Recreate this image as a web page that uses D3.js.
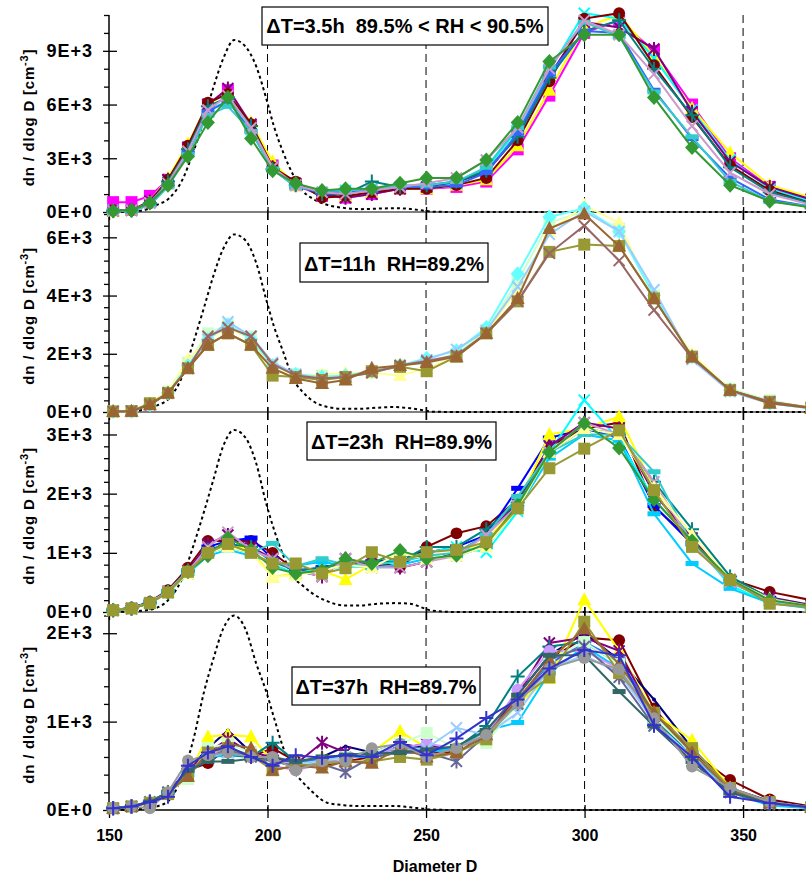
<!DOCTYPE html>
<html>
<head>
<meta charset="utf-8">
<title>dn / dlog D</title>
<script src="https://cdn.jsdelivr.net/npm/d3@7"></script>
<style>
	body { margin: 0; background: #fff; }
	svg text { font-family: "Liberation Sans", Arial, sans-serif; font-weight: bold; fill: #000; }
</style>
</head>
<body>
<script>
// size bins (diameter D)
var diam = [151.3, 157.1, 162.9, 168.6, 174.9, 181.2, 187.5, 194.8, 201.6, 208.9, 217.2, 224.6, 232.9,
	241.8, 250.2, 259.6, 269.0, 278.9, 288.9, 299.9, 310.9, 321.9, 333.9, 345.9, 358.4, 371.5];

// dotted reference distribution
var refD = [150, 160, 165, 169, 173, 176.5, 180, 183, 186, 189.5, 193, 196.5, 199.5, 202, 205, 208, 211, 214, 219, 224, 229, 235, 240, 245, 249, 252, 260, 370];
var ref1 = [0, 70, 390, 770, 1750, 3300, 5200, 7000, 8550, 9600, 9250, 8100, 6400, 4800, 3300, 2100, 1200, 770, 390, 230, 160, 190, 210, 170, 80, 20, 0, 0];
var ref2 = [0, 60, 220, 470, 1200, 2350, 3600, 4700, 5600, 6100, 5900, 5100, 3900, 2950, 2050, 1150, 700, 400, 170, 110, 110, 150, 170, 130, 60, 10, 0, 0];
var ref3 = [0, 20, 70, 220, 560, 1100, 1700, 2250, 2800, 3075, 2950, 2500, 1850, 1400, 950, 600, 450, 320, 180, 110, 110, 140, 150, 140, 70, 20, 0, 0];
var ref4 = [0, 10, 40, 110, 380, 780, 1340, 1720, 2050, 2200, 2050, 1650, 1350, 1050, 700, 450, 320, 210, 80, 55, 45, 45, 45, 30, 15, 5, 0, 0];

// panel 1 : dT=3.5h
var p1Data = [
	[550, 550, 900, 1800, 3600, 6000, 6800, 4800, 2600, 1500, 900, 800, 1000, 1300, 1300, 1400, 1700, 3500, 6500, 10000, 10700, 9000, 6000, 3000, 1400, 700],
	[50, 100, 600, 1900, 3800, 6000, 6700, 5000, 2800, 1500, 1000, 900, 1100, 1300, 1300, 1500, 1800, 3700, 6800, 10300, 11000, 8700, 5800, 3300, 1500, 800],
	[100, 100, 500, 1700, 3400, 5700, 6200, 4600, 2500, 1500, 1100, 1200, 1300, 1400, 1400, 1600, 2400, 4600, 7900, 11100, 10800, 8600, 5700, 2900, 1300, 600],
	[50, 100, 600, 1800, 3600, 6000, 6900, 4900, 2500, 1600, 1000, 800, 1000, 1300, 1400, 1700, 2200, 4300, 7600, 10600, 10300, 9100, 5600, 2800, 1400, 700],
	[100, 100, 500, 1800, 3700, 6100, 6600, 4900, 2500, 1700, 800, 900, 1100, 1300, 1300, 1500, 1900, 4000, 7300, 10800, 11100, 8200, 5300, 2600, 1200, 500],
	[50, 100, 500, 1700, 3500, 5900, 6400, 4800, 2400, 1500, 1000, 1000, 1700, 1400, 1500, 1700, 2300, 4200, 7500, 10100, 10700, 8000, 5400, 2500, 1100, 500],
	[50, 50, 400, 1500, 3300, 5600, 6200, 4500, 2400, 1400, 1100, 1100, 1200, 1400, 1400, 1500, 2200, 4400, 7700, 10100, 10000, 6800, 4100, 1900, 700, 300],
	[50, 50, 400, 1400, 3200, 5400, 5900, 4500, 2400, 1400, 1200, 1200, 1300, 1500, 1500, 1700, 2500, 4700, 8100, 10600, 9800, 6700, 4200, 1700, 600, 300],
	[50, 100, 500, 1600, 3400, 5700, 6500, 4700, 2500, 1500, 1100, 1000, 1200, 1400, 1600, 1900, 2900, 4700, 8000, 10700, 9900, 7700, 4800, 2200, 1000, 400],
	[50, 100, 500, 1500, 3100, 5000, 6400, 4100, 2300, 1600, 1200, 1300, 1300, 1600, 1900, 1900, 2900, 5000, 8400, 9900, 9900, 6400, 3600, 1500, 600, 250]
];
var p1Colors = ["#FF00FF", "#FFFF00", "#00FFFF", "#800080", "#800000", "#008080", "#3366FF", "#33CCCC", "#CC99CC", "#339933"];
var p1Marks = ["square", "triangle", "x", "star", "circle", "plus", "bar", "bar", "x", "diamond"];

// panel 2 : dT=11h
var p2Data = [
	[20, 30, 300, 700, 1700, 2700, 3000, 2600, 1600, 1300, 1250, 1200, 1350, 1600, 1700, 2000, 2800, 4500, 6500, 6900, 6300, 4000, 1900, 800, 400, 150],
	[20, 30, 300, 700, 1800, 2500, 2900, 2500, 1500, 1250, 1300, 1350, 1350, 1250, 1500, 1900, 2700, 4200, 6200, 7100, 6500, 3900, 2000, 750, 350, 150],
	[20, 30, 250, 650, 1600, 2500, 3000, 2500, 1600, 1300, 1200, 1250, 1400, 1600, 1850, 2100, 2900, 4750, 6700, 7000, 6200, 4000, 1900, 750, 300, 120],
	[20, 30, 250, 650, 1500, 2500, 3100, 2600, 1700, 1300, 1150, 1200, 1350, 1600, 1800, 2150, 2800, 4300, 6100, 6900, 6200, 4200, 1800, 700, 300, 120],
	[20, 30, 300, 650, 1500, 2300, 2700, 2300, 1250, 1200, 1100, 1200, 1400, 1550, 1400, 1900, 2700, 3800, 5500, 5750, 5700, 3900, 1900, 750, 350, 150],
	[20, 30, 250, 650, 1500, 2600, 2900, 2600, 1650, 1250, 1150, 1200, 1350, 1600, 1750, 1950, 2700, 3800, 5450, 6400, 5200, 3500, 1850, 750, 350, 150],
	[20, 30, 250, 650, 1500, 2300, 2700, 2300, 1500, 1150, 980, 1100, 1500, 1600, 1700, 1900, 2700, 3900, 6300, 6800, 5700, 3900, 1900, 750, 300, 130]
];
var p2Colors = ["#CCFFCC", "#FFFF99", "#66FFFF", "#99CCFF", "#999933", "#996666", "#996633"];
var p2Marks = ["square", "triangle", "diamond", "x", "square", "x", "triangle"];

// panel 3 : dT=23h
var p3Data = [
	[30, 70, 170, 370, 750, 1200, 1200, 1200, 1000, 700, 700, 850, 850, 760, 1100, 1330, 1450, 1900, 2800, 3100, 3200, 1780, 1200, 560, 340, 200],
	[30, 70, 170, 350, 700, 1100, 1200, 1250, 900, 700, 750, 800, 850, 900, 1000, 1100, 1300, 2090, 2940, 3100, 2950, 1800, 1150, 500, 230, 100],
	[30, 60, 150, 330, 700, 1000, 1150, 1050, 590, 650, 700, 550, 800, 900, 950, 1000, 1200, 1800, 3000, 3100, 3300, 2100, 1300, 500, 200, 100],
	[30, 60, 150, 330, 650, 1000, 1100, 1000, 800, 650, 750, 750, 800, 900, 1000, 1100, 1010, 1700, 2700, 3580, 2900, 1900, 1200, 450, 150, 80],
	[30, 60, 150, 350, 700, 1150, 1300, 1100, 900, 700, 600, 900, 800, 750, 850, 1000, 1300, 1850, 2800, 3200, 3100, 2000, 1250, 550, 250, 120],
	[30, 60, 160, 350, 700, 1050, 1150, 1100, 850, 700, 750, 850, 850, 850, 1100, 1100, 1400, 1850, 2700, 3100, 3000, 2200, 1400, 600, 230, 100],
	[30, 60, 150, 330, 650, 950, 1050, 950, 850, 780, 850, 780, 750, 800, 900, 950, 1100, 1750, 2600, 3000, 2900, 1660, 820, 400, 150, 60],
	[30, 60, 160, 350, 700, 1000, 1100, 1000, 1160, 780, 900, 800, 800, 850, 950, 1000, 1300, 1950, 2700, 3000, 3000, 2370, 1150, 500, 200, 90],
	[30, 60, 160, 350, 680, 1100, 1350, 1050, 900, 700, 600, 900, 750, 750, 850, 950, 1300, 1800, 2700, 3200, 3000, 2200, 1150, 500, 200, 90],
	[30, 60, 150, 330, 650, 1000, 1100, 1000, 590, 620, 700, 800, 750, 1000, 900, 950, 1100, 1750, 2700, 3100, 3000, 2100, 1300, 550, 220, 100],
	[30, 60, 150, 330, 680, 950, 1250, 1050, 750, 650, 700, 900, 820, 1040, 900, 960, 1150, 1800, 2700, 3190, 2770, 1900, 1200, 550, 200, 100],
	[30, 60, 150, 330, 680, 1000, 1150, 1000, 820, 820, 650, 740, 1010, 850, 1010, 1050, 1180, 1750, 2430, 2760, 3070, 2060, 1100, 540, 140, 80]
];
var p3Colors = ["#800000", "#0000FF", "#FFFF00", "#00FFFF", "#800080", "#008080", "#00CCFF", "#33CCCC", "#CC99CC", "#FFFF99", "#339933", "#999933"];
var p3Marks = ["circle", "bar", "triangle", "x", "star", "plus", "bar", "bar", "x", "triangle", "diamond", "square"];

// panel 4 : dT=37h
var p4Data = [
	[20, 40, 90, 200, 450, 530, 700, 600, 700, 550, 500, 550, 600, 650, 650, 650, 850, 1200, 1700, 1950, 1920, 1150, 650, 340, 120, 40],
	[20, 40, 90, 200, 450, 700, 900, 650, 550, 500, 600, 720, 650, 750, 700, 700, 900, 1300, 1750, 2000, 1700, 1250, 700, 250, 100, 30],
	[20, 40, 80, 180, 400, 830, 850, 830, 550, 550, 600, 620, 650, 890, 700, 700, 900, 1200, 1490, 2380, 1800, 1100, 790, 250, 90, 30],
	[20, 40, 90, 200, 450, 650, 800, 650, 600, 520, 760, 650, 600, 700, 750, 650, 850, 1300, 1890, 1950, 1800, 1050, 550, 200, 80, 30],
	[20, 40, 100, 200, 450, 600, 620, 600, 760, 550, 550, 620, 650, 700, 700, 700, 950, 1510, 1850, 1900, 1650, 1050, 600, 230, 80, 30],
	[20, 40, 90, 200, 450, 600, 700, 600, 520, 550, 580, 600, 620, 650, 680, 700, 850, 1250, 1650, 1900, 1700, 1100, 650, 220, 80, 30],
	[20, 40, 90, 200, 400, 600, 620, 620, 550, 500, 560, 600, 600, 650, 650, 700, 900, 990, 1550, 1850, 1600, 1000, 600, 200, 50, 20],
	[20, 40, 90, 200, 420, 620, 680, 600, 500, 450, 520, 600, 650, 700, 750, 700, 850, 1360, 1800, 1800, 1600, 1000, 550, 200, 80, 30],
	[20, 40, 90, 200, 350, 700, 750, 650, 550, 500, 550, 600, 650, 750, 870, 700, 760, 1200, 1700, 1900, 1650, 1050, 650, 230, 80, 30],
	[20, 40, 90, 200, 420, 600, 650, 620, 550, 520, 560, 600, 620, 680, 700, 930, 850, 1100, 1600, 1750, 1550, 1000, 600, 200, 70, 30],
	[20, 40, 90, 200, 420, 600, 680, 600, 550, 500, 520, 430, 600, 650, 650, 550, 850, 1200, 1700, 1850, 1500, 950, 550, 200, 70, 30],
	[20, 40, 80, 180, 400, 650, 700, 620, 450, 500, 520, 550, 550, 600, 570, 650, 800, 1250, 1500, 2130, 1550, 1100, 700, 250, 90, 30],
	[20, 40, 90, 200, 380, 650, 750, 700, 450, 500, 475, 550, 530, 700, 600, 650, 850, 1250, 1700, 2050, 1650, 1100, 650, 230, 80, 30],
	[20, 40, 90, 200, 450, 550, 550, 580, 600, 550, 600, 620, 640, 650, 680, 720, 900, 1300, 1750, 1750, 1340, 950, 550, 200, 80, 30],
	[20, 40, 20, 200, 560, 620, 650, 600, 600, 450, 550, 550, 700, 750, 600, 700, 850, 1200, 1600, 1720, 1590, 1040, 490, 250, 90, 30],
	[20, 40, 90, 150, 500, 650, 720, 600, 500, 620, 590, 620, 600, 770, 620, 810, 1040, 1250, 1600, 1810, 1750, 960, 600, 150, 80, 30]
];
var p4Colors = ["#800000", "#000080", "#FFFF00", "#800080", "#008080", "#3366FF", "#00CCFF", "#CC99FF", "#CCFFCC", "#99CCFF", "#666699", "#999933", "#996633", "#336666", "#999999", "#3333CC"];
var p4Marks = ["circle", "dot", "triangle", "star", "plus", "bar", "bar", "circle", "square", "x", "star", "square", "triangle", "bar", "circle", "plus"];

var labels = ["\u0394T=3.5h  89.5% < RH < 90.5%", "\u0394T=11h  RH=89.2%", "\u0394T=23h  RH=89.9%", "\u0394T=37h  RH=89.7%"];
var yMax = [11000, 6870, 3380, 2240];
var yMajor = [[0, 3000, 6000, 9000], [0, 2000, 4000, 6000], [0, 1000, 2000, 3000], [0, 1000, 2000]];
var yMinorStep = [1000, 400, 200, 200];
var xMajor = [150, 200, 250, 300, 350];

// layout
var W = 806, H = 874;
var panelTop = [15, 212, 412, 612];
var panelBot = [212, 412, 612, 810];
var boxes = [[262, 7, 286, 38, 33], [300, 243, 188, 39, 270.5], [307, 422, 189, 38, 449], [292, 667, 188, 38, 694]];

var svg = d3.select("body").append("svg").attr("width", W).attr("height", H);
var x = d3.scaleLinear().domain([150, 370]).range([109, 806.5]);

var allData = [p1Data, p2Data, p3Data, p4Data];
var allColors = [p1Colors, p2Colors, p3Colors, p4Colors];
var allMarks = [p1Marks, p2Marks, p3Marks, p4Marks];
var allRef = [ref1, ref2, ref3, ref4];

function fmtY(v) {
	return v == 0 ? "0E+0" : (v / 1000) + "E+3";
}

function markPath(type) {
	if (type == "square") return "M-6,-6h12v12h-12z";
	if (type == "triangle") return "M0,-7.5L7,5.5L-7,5.5Z";
	if (type == "diamond") return "M0,-7.5L7,0L0,7.5L-7,0Z";
	if (type == "bar") return "M-6.5,-2.5h13v5h-13z";
	if (type == "circle") return d3.symbol(d3.symbolCircle, 110)();
	if (type == "dot") return d3.symbol(d3.symbolCircle, 12)();
	if (type == "x") return "M-5.5,-5.5L5.5,5.5M-5.5,5.5L5.5,-5.5";
	if (type == "plus") return "M-7,0H7M0,-7V7";
	if (type == "star") return "M-5.5,-5.5L5.5,5.5M-5.5,5.5L5.5,-5.5M0,-7V7";
}
function isStroked(type) {
	return type == "x" || type == "plus" || type == "star";
}

var yScales = [];
for (var p = 0; p < 4; p++) {
	yScales.push(d3.scaleLinear().domain([0, yMax[p]]).range([panelBot[p], panelTop[p]]));
}

// frame : grid lines, axes
for (var p = 0; p < 4; p++) {
	var y = yScales[p];
	var g = svg.append("g");

	// dashed verticals
	g.selectAll("line.grid").data([200, 250, 300, 350]).enter().append("line")
		.attr("x1", function(d) { return x(d); }).attr("x2", function(d) { return x(d); })
		.attr("y1", panelTop[p]).attr("y2", panelBot[p])
		.attr("stroke", "#000").attr("stroke-width", 1).attr("stroke-dasharray", "8,5");

	// baseline
	g.append("line").attr("x1", 109).attr("x2", W).attr("y1", panelBot[p]).attr("y2", panelBot[p])
		.attr("stroke", p == 3 ? "#000" : "#555").attr("stroke-width", 1.4);

	// x ticks
	var minorX = d3.range(160, 371, 10).filter(function(d) { return d % 50 != 0; });
	var gx = g.append("g").attr("transform", "translate(0," + panelBot[p] + ")");
	gx.call(d3.axisBottom(x).tickValues(minorX).tickSize(5).tickFormat(""));
	gx.call(d3.axisBottom(x).tickValues(xMajor).tickSize(8).tickPadding(12)
		.tickFormat(p == 3 ? d3.format("d") : ""));
	gx.select(".domain").remove();
	var gx2 = g.append("g").attr("transform", "translate(0," + panelBot[p] + ")");
	gx2.call(d3.axisTop(x).tickValues(xMajor).tickSize(5).tickFormat(""));
	gx2.select(".domain").remove();

	// y ticks
	var minorY = d3.range(0, yMax[p] + 1, yMinorStep[p]).filter(function(d) { return yMajor[p].indexOf(d) < 0; });
	var gy = g.append("g").attr("transform", "translate(109,0)");
	gy.call(d3.axisLeft(y).tickValues(minorY).tickSize(5).tickFormat(""));
	gy.select(".domain").remove();
	var gy2 = g.append("g").attr("transform", "translate(109,0)");
	gy2.call(d3.axisLeft(y).tickValues(yMajor[p]).tickSize(6).tickPadding(10).tickFormat(fmtY));
	gy2.select(".domain").remove();
	var gy3 = g.append("g").attr("transform", "translate(109,0)");
	gy3.call(d3.axisRight(y).tickValues(yMajor[p]).tickSize(8).tickFormat(""));
	gy3.select(".domain").remove();

	g.selectAll(".tick line").attr("stroke", "#000").attr("stroke-width", 1.3);
	gy2.selectAll("text").style("font-size", "18px").style("letter-spacing", "1px").attr("fill", "#000");
	gx.selectAll("text").style("font-size", "16px").attr("fill", "#000");

	// y title
	var t = svg.append("text")
		.attr("transform", "translate(34," + ((panelTop[p] + panelBot[p]) / 2 + 4) + ") rotate(-90)")
		.attr("text-anchor", "middle")
		.style("font-size", "15px").style("letter-spacing", "0.8px");
	t.append("tspan").text("dn / dlog D [cm");
	t.append("tspan").attr("dy", -6).style("font-size", "11px").text("-3");
	t.append("tspan").attr("dy", 6).text("]");
}

// y axis line
svg.append("line").attr("x1", 109).attr("x2", 109).attr("y1", 15).attr("y2", 810)
	.attr("stroke", "#000").attr("stroke-width", 1.5);

// data
for (var p = 0; p < 4; p++) {
	var y = yScales[p];
	var g = svg.append("g");

	// dotted reference curve
	var refLine = d3.line()
		.x(function(d, i) { return x(refD[i]); })
		.y(function(d) { return y(d); })
		.curve(d3.curveMonotoneX);
	g.append("path").attr("d", refLine(allRef[p]))
		.attr("fill", "none").attr("stroke", "#000").attr("stroke-width", 2)
		.attr("stroke-dasharray", "3,3");

	var line = d3.line()
		.x(function(d, i) { return x(diam[i]); })
		.y(function(d) { return y(d); });

	allData[p].forEach(function(vals, k) {
		var col = allColors[p][k];
		var mk = allMarks[p][k];
		var sg = g.append("g");
		sg.append("path").attr("d", line(vals))
			.attr("fill", "none").attr("stroke", col).attr("stroke-width", 2);
		sg.selectAll("path.m").data(vals).enter().append("path")
			.attr("class", "m")
			.attr("transform", function(d, i) { return "translate(" + x(diam[i]) + "," + y(d) + ")"; })
			.attr("d", markPath(mk))
			.attr("fill", isStroked(mk) ? "none" : col)
			.attr("stroke", isStroked(mk) ? col : "none")
			.attr("stroke-width", 2);
	});
}

// annotation boxes
for (var p = 0; p < 4; p++) {
	var b = boxes[p];
	svg.append("rect").attr("x", b[0]).attr("y", b[1]).attr("width", b[2]).attr("height", b[3])
		.attr("fill", "#fff").attr("stroke", "#000").attr("stroke-width", 1.2);
	svg.append("text").attr("x", b[0] + b[2] / 2).attr("y", b[4])
		.attr("text-anchor", "middle")
		.style("font-size", "20px").style("white-space", "pre")
		.text(labels[p]);
}

// x title
svg.append("text").attr("x", 435).attr("y", 872).attr("text-anchor", "middle")
	.style("font-size", "16px").text("Diameter D");
</script>
</body>
</html>
